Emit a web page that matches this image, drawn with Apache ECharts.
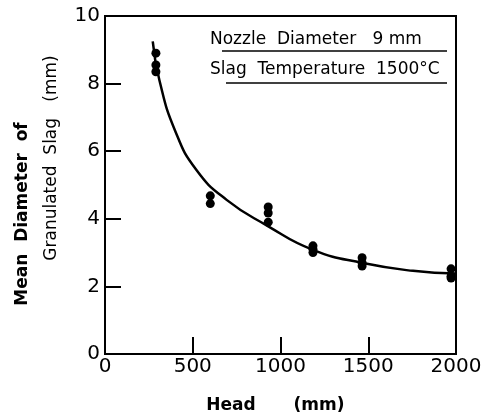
<!DOCTYPE html>
<html><head><meta charset="utf-8">
<script src="https://cdn.jsdelivr.net/npm/echarts@6/dist/echarts.min.js"></script>
<style>html,body{margin:0;padding:0;background:#fff}#c{width:485px;height:419px}</style>
</head><body><div id="c"></div>
<script>
// Measured data (Head mm, mean diameter mm)
const pointHead = [290, 290, 290, 600, 600, 930, 930, 930, 1185, 1185, 1185, 1465, 1465, 1465, 1972, 1972, 1972];
const pointDiam = [8.9, 8.55, 8.35, 4.68, 4.45, 4.35, 4.17, 3.9, 3.2, 3.1, 3.0, 2.85, 2.7, 2.6, 2.52, 2.3, 2.25];
// Fitted curve
const curveHead = [272, 310, 400, 520, 693, 923, 1185, 1470, 1755, 2000];
const curveDiam = [9.25, 8.1, 6.6, 5.45, 4.56, 3.8, 3.08, 2.69, 2.46, 2.38];
const xTicks = [0, 500, 1000, 1500, 2000];
const yTicks = [0, 2, 4, 6, 8, 10];

const F = 'DejaVu Sans';
const chart = echarts.init(document.getElementById('c'));
chart.setOption({
  backgroundColor: '#fff',
  animation: false,
  grid: {left: 105, right: 29, top: 16, bottom: 65, show: true, borderColor: '#000', borderWidth: 2},
  xAxis: {
    type: 'value', min: 0, max: 2000, interval: 500,
    axisLine: {show: true, lineStyle: {color: '#000', width: 2}},
    axisTick: {show: true, inside: true, length: 17, lineStyle: {color: '#000', width: 2}},
    axisLabel: {color: '#000', fontSize: 20, fontFamily: F, margin: 3, formatter: v => String(v)},
    splitLine: {show: false}
  },
  yAxis: {
    type: 'value', min: 0, max: 10, interval: 2,
    axisLine: {show: true, lineStyle: {color: '#000', width: 2}},
    axisTick: {show: true, inside: true, length: 16, lineStyle: {color: '#000', width: 2}},
    axisLabel: {color: '#000', fontSize: 20, fontFamily: F, margin: 5, formatter: v => String(v)},
    splitLine: {show: false}
  },
  series: [
    {type: 'line', data: curveHead.map((h, i) => [h, curveDiam[i]]), smooth: 0.5,
     showSymbol: false, lineStyle: {color: '#000', width: 2.5}},
    {type: 'scatter', data: pointHead.map((h, i) => [h, pointDiam[i]]), symbolSize: 9,
     itemStyle: {color: '#000', opacity: 1}}
  ],
  graphic: [
    {type: 'text', left: 210, top: 31, style: {text: 'Nozzle  Diameter   9 mm', font: '17px "DejaVu Sans"', fill: '#000'}},
    {type: 'line', shape: {x1: 222, y1: 51, x2: 447, y2: 51}, style: {stroke: '#000', lineWidth: 1.5}},
    {type: 'text', left: 210, top: 61, style: {text: 'Slag  Temperature  1500°C', font: '17px "DejaVu Sans"', fill: '#000'}},
    {type: 'line', shape: {x1: 226, y1: 83, x2: 447, y2: 83}, style: {stroke: '#000', lineWidth: 1.5}},
    {type: 'text', x: 23, y: 214, rotation: Math.PI / 2, style: {text: 'Mean  Diameter  of', font: 'bold 17px "DejaVu Sans"', fill: '#000', align: 'center', verticalAlign: 'middle'}},
    {type: 'text', x: 52, y: 158, rotation: Math.PI / 2, style: {text: 'Granulated  Slag   (mm)', font: '17px "DejaVu Sans"', fill: '#000', align: 'center', verticalAlign: 'middle'}},
    {type: 'text', x: 231, y: 406, style: {text: 'Head', font: 'bold 17px "DejaVu Sans"', fill: '#000', align: 'center', verticalAlign: 'middle'}},
    {type: 'text', x: 319, y: 406, style: {text: '(mm)', font: 'bold 17px "DejaVu Sans"', fill: '#000', align: 'center', verticalAlign: 'middle'}}
  ]
});
</script></body></html>
